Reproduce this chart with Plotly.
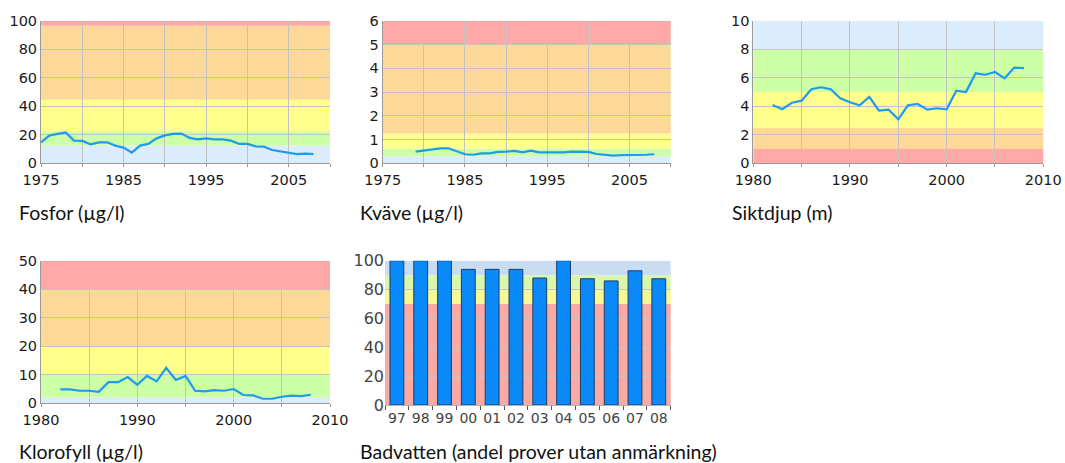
import plotly.graph_objects as go

# --- Data -------------------------------------------------------------
fosfor_years = list(range(1975, 2009))
fosfor_vals = [14.7, 19.4, 20.6, 21.7, 15.9, 15.7, 13.3, 14.7, 14.7, 12.4,
               11.0, 7.5, 12.4, 13.6, 17.5, 19.6, 20.6, 20.8, 17.8, 16.8,
               17.5, 16.8, 16.8, 15.9, 13.6, 13.6, 11.9, 11.7, 9.3, 8.4,
               7.7, 6.5, 6.8, 6.5]

kvave_years = list(range(1979, 2009))
kvave_vals = [0.49, 0.53, 0.56, 0.63, 0.63, 0.49, 0.38, 0.36, 0.42, 0.42,
              0.48, 0.49, 0.52, 0.46, 0.53, 0.46, 0.45, 0.45, 0.46, 0.49,
              0.48, 0.48, 0.39, 0.35, 0.32, 0.34, 0.34, 0.35, 0.36, 0.38]

sikt_years = list(range(1982, 2009))
sikt_vals = [4.09, 3.79, 4.25, 4.39, 5.19, 5.33, 5.19, 4.56, 4.28, 4.07,
             4.65, 3.69, 3.76, 3.08, 4.07, 4.16, 3.76, 3.86, 3.79, 5.09,
             5.0, 6.31, 6.21, 6.4, 5.96, 6.71, 6.68]

klorofyll_years = list(range(1982, 2009))
klorofyll_vals = [4.9, 4.9, 4.4, 4.4, 4.0, 7.4, 7.4, 9.2, 6.5, 9.6,
                  7.7, 12.4, 8.2, 9.6, 4.4, 4.2, 4.6, 4.4, 5.0, 2.9,
                  2.8, 1.6, 1.6, 2.3, 2.7, 2.5, 3.0]

bad_labels = ["97", "98", "99", "00", "01", "02", "03", "04", "05", "06", "07", "08"]
bad_vals = [100, 100, 100, 94, 94, 94, 88, 100, 87.5, 86, 93, 87.5]

# Class limits (lower, upper) for the coloured background bands
fosfor_bands = [(0, 12.5), (12.5, 22.5), (22.5, 44.5), (44.5, 96.5), (96.5, 100)]
kvave_bands = [(0, 0.3), (0.3, 0.625), (0.625, 1.25), (1.25, 5), (5, 6)]
sikt_bands = [(8, 10), (5, 8), (2.5, 5), (1, 2.5), (0, 1)]
klorofyll_bands = [(0, 2), (2, 10), (10, 20), (20, 40), (40, 50)]
bad_bands = [(0, 70), (70, 80), (80, 90), (90, 100)]

# --- Styling ----------------------------------------------------------
C_BLUE = "#dbecfc"
C_GREEN = "#ccffa6"
C_YELLOW = "#ffff8c"
C_ORANGE = "#fed896"
C_RED = "#ffa8a8"
five_colors = [C_BLUE, C_GREEN, C_YELLOW, C_ORANGE, C_RED]
bad_colors = ["#f9aaa2", "#f6f894", "#d8f7aa", "#c9ddf2"]

LINE_COLOR = "#1e9bec"
GRID = "#c2c2c2"
AXIS = "#9a9a9a"
TICK_FONT = dict(family="DejaVu Sans", size=14.5, color="#1a1a1a")
LABEL_FONT = dict(family="Lato", size=19.5, color="#111111")

W, H = 1065, 463


def px_x(a, b):
    return [a / W, b / W]


def px_y(top, bottom):
    return [1 - bottom / H, 1 - top / H]


fig = go.Figure()
shapes = []

panels = [
    # (years, values, bands, colors, xrange, xticks, xlabels, yrange, ydtick, xdomain, ydomain)
    (fosfor_years, fosfor_vals, fosfor_bands, five_colors, [1975, 2010],
     list(range(1975, 2011, 5)), ["1975", "", "1985", "", "1995", "", "2005", ""],
     [0, 100], 20, px_x(41, 330), px_y(20.7, 163.3)),
    (kvave_years, kvave_vals, kvave_bands, five_colors, [1975, 2010],
     list(range(1975, 2011, 5)), ["1975", "", "1985", "", "1995", "", "2005", ""],
     [0, 6], 1, px_x(382.7, 670.7), px_y(20.7, 163.3)),
    (sikt_years, sikt_vals, sikt_bands, five_colors, [1980, 2010],
     list(range(1980, 2011, 5)), ["1980", "", "1990", "", "2000", "", "2010"],
     [0, 10], 2, px_x(753.3, 1043.3), px_y(20.7, 163.3)),
    (klorofyll_years, klorofyll_vals, klorofyll_bands, five_colors, [1980, 2010],
     list(range(1980, 2011, 5)), ["1980", "", "1990", "", "2000", "", "2010"],
     [0, 50], 10, px_x(41, 330), px_y(260.7, 403.3)),
]

for i, (yrs, vals, bands, cols, xr, xt, xl, yr, dt, xd, yd) in enumerate(panels, start=1):
    xa = "x" if i == 1 else f"x{i}"
    ya = "y" if i == 1 else f"y{i}"
    fig.add_trace(go.Scatter(
        x=yrs, y=vals, mode="lines", xaxis=xa, yaxis=ya,
        line=dict(color=LINE_COLOR, width=2.2), showlegend=False,
        hoverinfo="x+y"))
    for (lo, hi), col in zip(bands, cols):
        shapes.append(dict(type="rect", xref=f"{xa} domain", yref=ya,
                           x0=0, x1=1, y0=lo, y1=hi, fillcolor=col,
                           line=dict(width=0), layer="below"))
    fig.update_layout(**{
        ("xaxis" if i == 1 else f"xaxis{i}"): dict(
            domain=xd, range=xr, anchor=ya, tickmode="array", tickvals=xt,
            ticktext=xl, showgrid=True, gridcolor=GRID, gridwidth=1,
            showline=True, linecolor=AXIS, linewidth=1, ticks="outside",
            ticklen=3, tickcolor=AXIS, tickfont=TICK_FONT, zeroline=False,
            automargin=False, fixedrange=True),
        ("yaxis" if i == 1 else f"yaxis{i}"): dict(
            domain=yd, range=yr, anchor=xa, dtick=dt, showgrid=True,
            gridcolor=GRID, gridwidth=1, showline=True, linecolor=AXIS,
            linewidth=1, ticks="", tickfont=TICK_FONT, zeroline=False,
            automargin=False, fixedrange=True),
    })

# Bathing water bar panel
fig.add_trace(go.Bar(
    x=bad_labels, y=bad_vals, xaxis="x5", yaxis="y5",
    marker=dict(color="#0a8af8", line=dict(color="#1c3d6e", width=1)),
    width=0.58, showlegend=False, hoverinfo="x+y"))
for (lo, hi), col in zip(bad_bands, bad_colors):
    shapes.append(dict(type="rect", xref="x5 domain", yref="y5",
                       x0=0, x1=1, y0=lo, y1=hi, fillcolor=col,
                       line=dict(width=0), layer="below"))

fig.update_layout(
    xaxis5=dict(domain=px_x(385, 670.7), anchor="y5", type="category",
                showgrid=False, showline=True, linecolor="#b0b0b0",
                ticks="outside", tickson="boundaries", ticklen=4,
                tickcolor="#555555", tickangle=0,
                tickfont=dict(family="DejaVu Sans", size=14, color="#444444"),
                automargin=False, fixedrange=True),
    yaxis5=dict(domain=px_y(260.7, 405), anchor="x5", range=[0, 100], dtick=20,
                showgrid=True, gridcolor="#c8c8c8", showline=False, ticks="",
                tickfont=dict(family="DejaVu Sans", size=16, color="#444444"),
                zeroline=False, automargin=False, fixedrange=True),
)

captions = [
    ("Fosfor (µg/l)", 17, 212),
    ("Kväve (µg/l)", 358, 212),
    ("Siktdjup (m)", 730, 212),
    ("Klorofyll (µg/l)", 17, 451),
    ("Badvatten (andel prover utan anmärkning)", 358, 451),
]
annotations = [dict(text=t, x=x / W, y=1 - y / H, xref="paper", yref="paper",
                    xanchor="left", yanchor="middle", showarrow=False,
                    font=LABEL_FONT) for t, x, y in captions]

fig.update_layout(
    width=W, height=H, margin=dict(l=0, r=0, t=0, b=0, autoexpand=False),
    paper_bgcolor="white", plot_bgcolor="white",
    shapes=shapes, annotations=annotations, bargap=0.4,
)

fig.write_html("out.html")
